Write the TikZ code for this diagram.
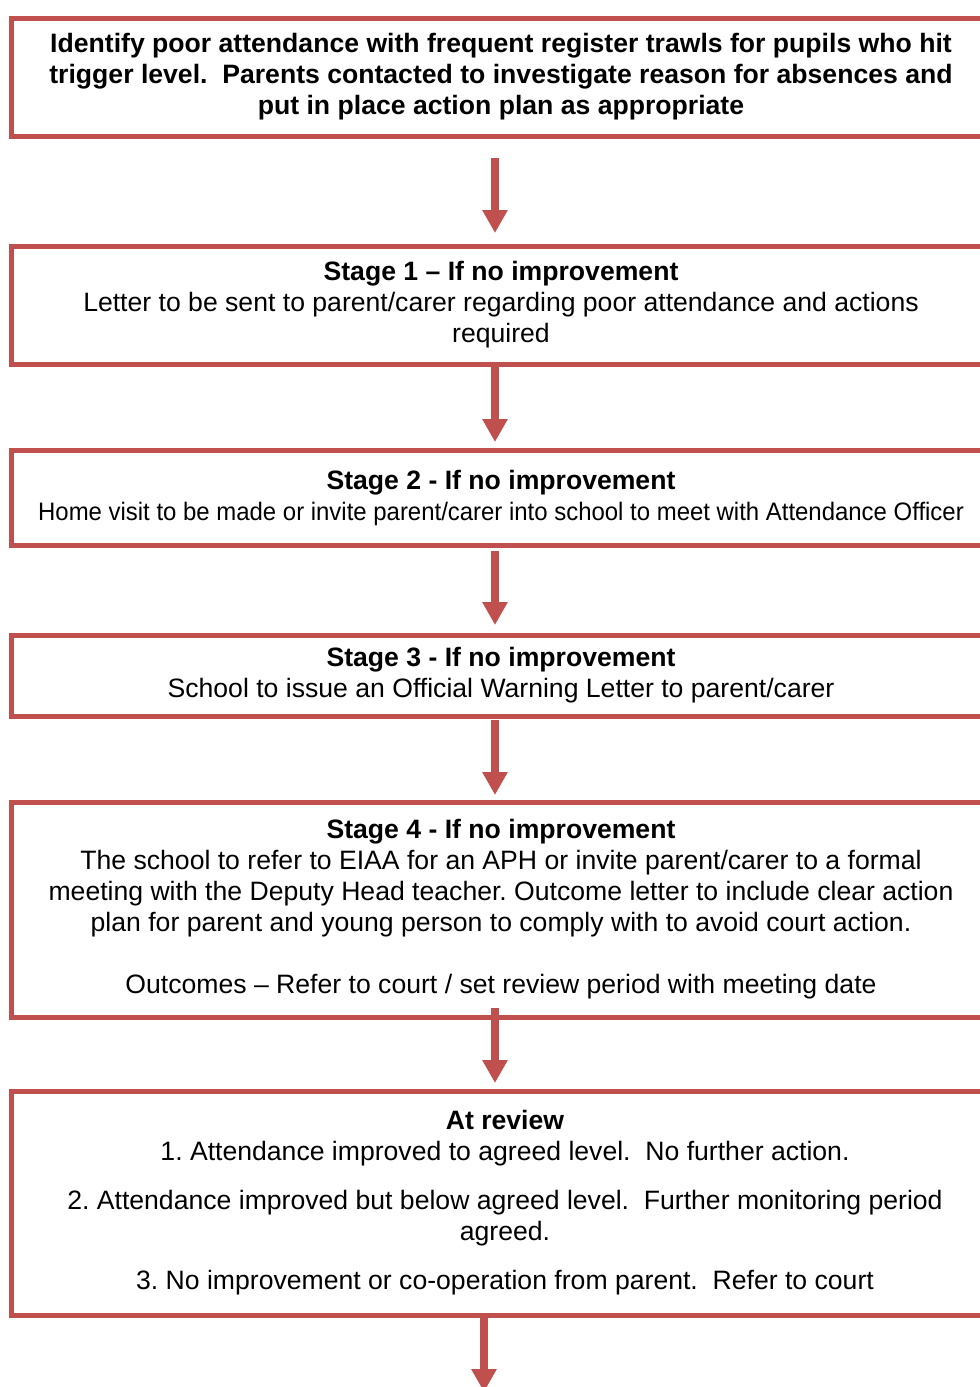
\documentclass[tikz,border=0pt]{standalone}
\usepackage{fontspec}
\setmainfont{Liberation Sans}
\usetikzlibrary{arrows.meta,calc}
\definecolor{boxred}{RGB}{192,80,77}
\frenchspacing
\tikzset{
  box/.style={draw=boxred, line width=5pt, rectangle, outer sep=0pt, inner sep=0pt,
    align=center, font=\fontsize{26.6}{31}\selectfont},
  arr/.style={draw=boxred, line width=8pt, -{Triangle[width=24pt,length=23pt]}}
}
\begin{document}
\begin{tikzpicture}[x=1pt,y=-1pt]
\useasboundingbox (0,0) rectangle (980,1387);
\begin{scope}
\clip (0,0) rectangle (980,1387);
\node[box, minimum width=980pt, minimum height=118pt] (b0) at (501,77)
 {\textbf{Identify poor attendance with frequent register trawls for pupils who hit}\\
  \textbf{trigger level.\ \ Parents contacted to investigate reason for absences and}\\
  \textbf{put in place action plan as appropriate}};
\node[box, minimum width=980pt, minimum height=118pt] (b1) at (501,305)
 {\textbf{Stage 1 – If no improvement}\\
  Letter to be sent to parent/carer regarding poor attendance and actions\\
  required};
\node[box, minimum width=980pt, minimum height=95pt] (b2) at (501,497.5)
 {\textbf{Stage 2 - If no improvement}\\
  \scalebox{0.9}[0.95]{Home visit to be made or invite parent/carer into school to meet with Attendance Officer}};
\node[box, minimum width=980pt, minimum height=81pt] (b3) at (501,675.5)
 {\textbf{Stage 3 - If no improvement}\\
  School to issue an Official Warning Letter to parent/carer};
\node[box, minimum width=980pt, minimum height=215pt] (b4) at (501,909.5)
 {\textbf{Stage 4 - If no improvement}\\
  The school to refer to EIAA for an APH or invite parent/carer to a formal\\
  meeting with the Deputy Head teacher. Outcome letter to include clear action\\
  plan for parent and young person to comply with to avoid court action.\\
  \mbox{}\\
  Outcomes – Refer to court / set review period with meeting date};
\node[box, minimum width=988pt, minimum height=224pt] (b5) at (505,1203)
 {\textbf{At review}\\
  1. Attendance improved to agreed level.\ \ No further action.\\[18pt]
  2. Attendance improved but below agreed level.\ \ Further monitoring period\\
  agreed.\\[18pt]
  3. No improvement or co-operation from parent.\ \ Refer to court};
\coordinate (end) at (484,1392);
\draw[arr] ([xshift=-6pt,yshift=-22pt]b0.south) -- ([xshift=-6pt,yshift=13pt]b1.north);
\draw[arr] ([xshift=-6pt,yshift=-3pt]b1.south) -- ([xshift=-6pt,yshift=8pt]b2.north);
\draw[arr] ([xshift=-6pt,yshift=-6pt]b2.south) -- ([xshift=-6pt,yshift=10pt]b3.north);
\draw[arr] ([xshift=-6pt,yshift=-4pt]b3.south) -- ([xshift=-6pt,yshift=7pt]b4.north);
\draw[arr] ([xshift=-6pt,yshift=9pt]b4.south) -- ([xshift=-10pt,yshift=8pt]b5.north);
\draw[arr] ([xshift=-21pt]b5.south) -- (end);
\end{scope}
\end{tikzpicture}
\end{document}
